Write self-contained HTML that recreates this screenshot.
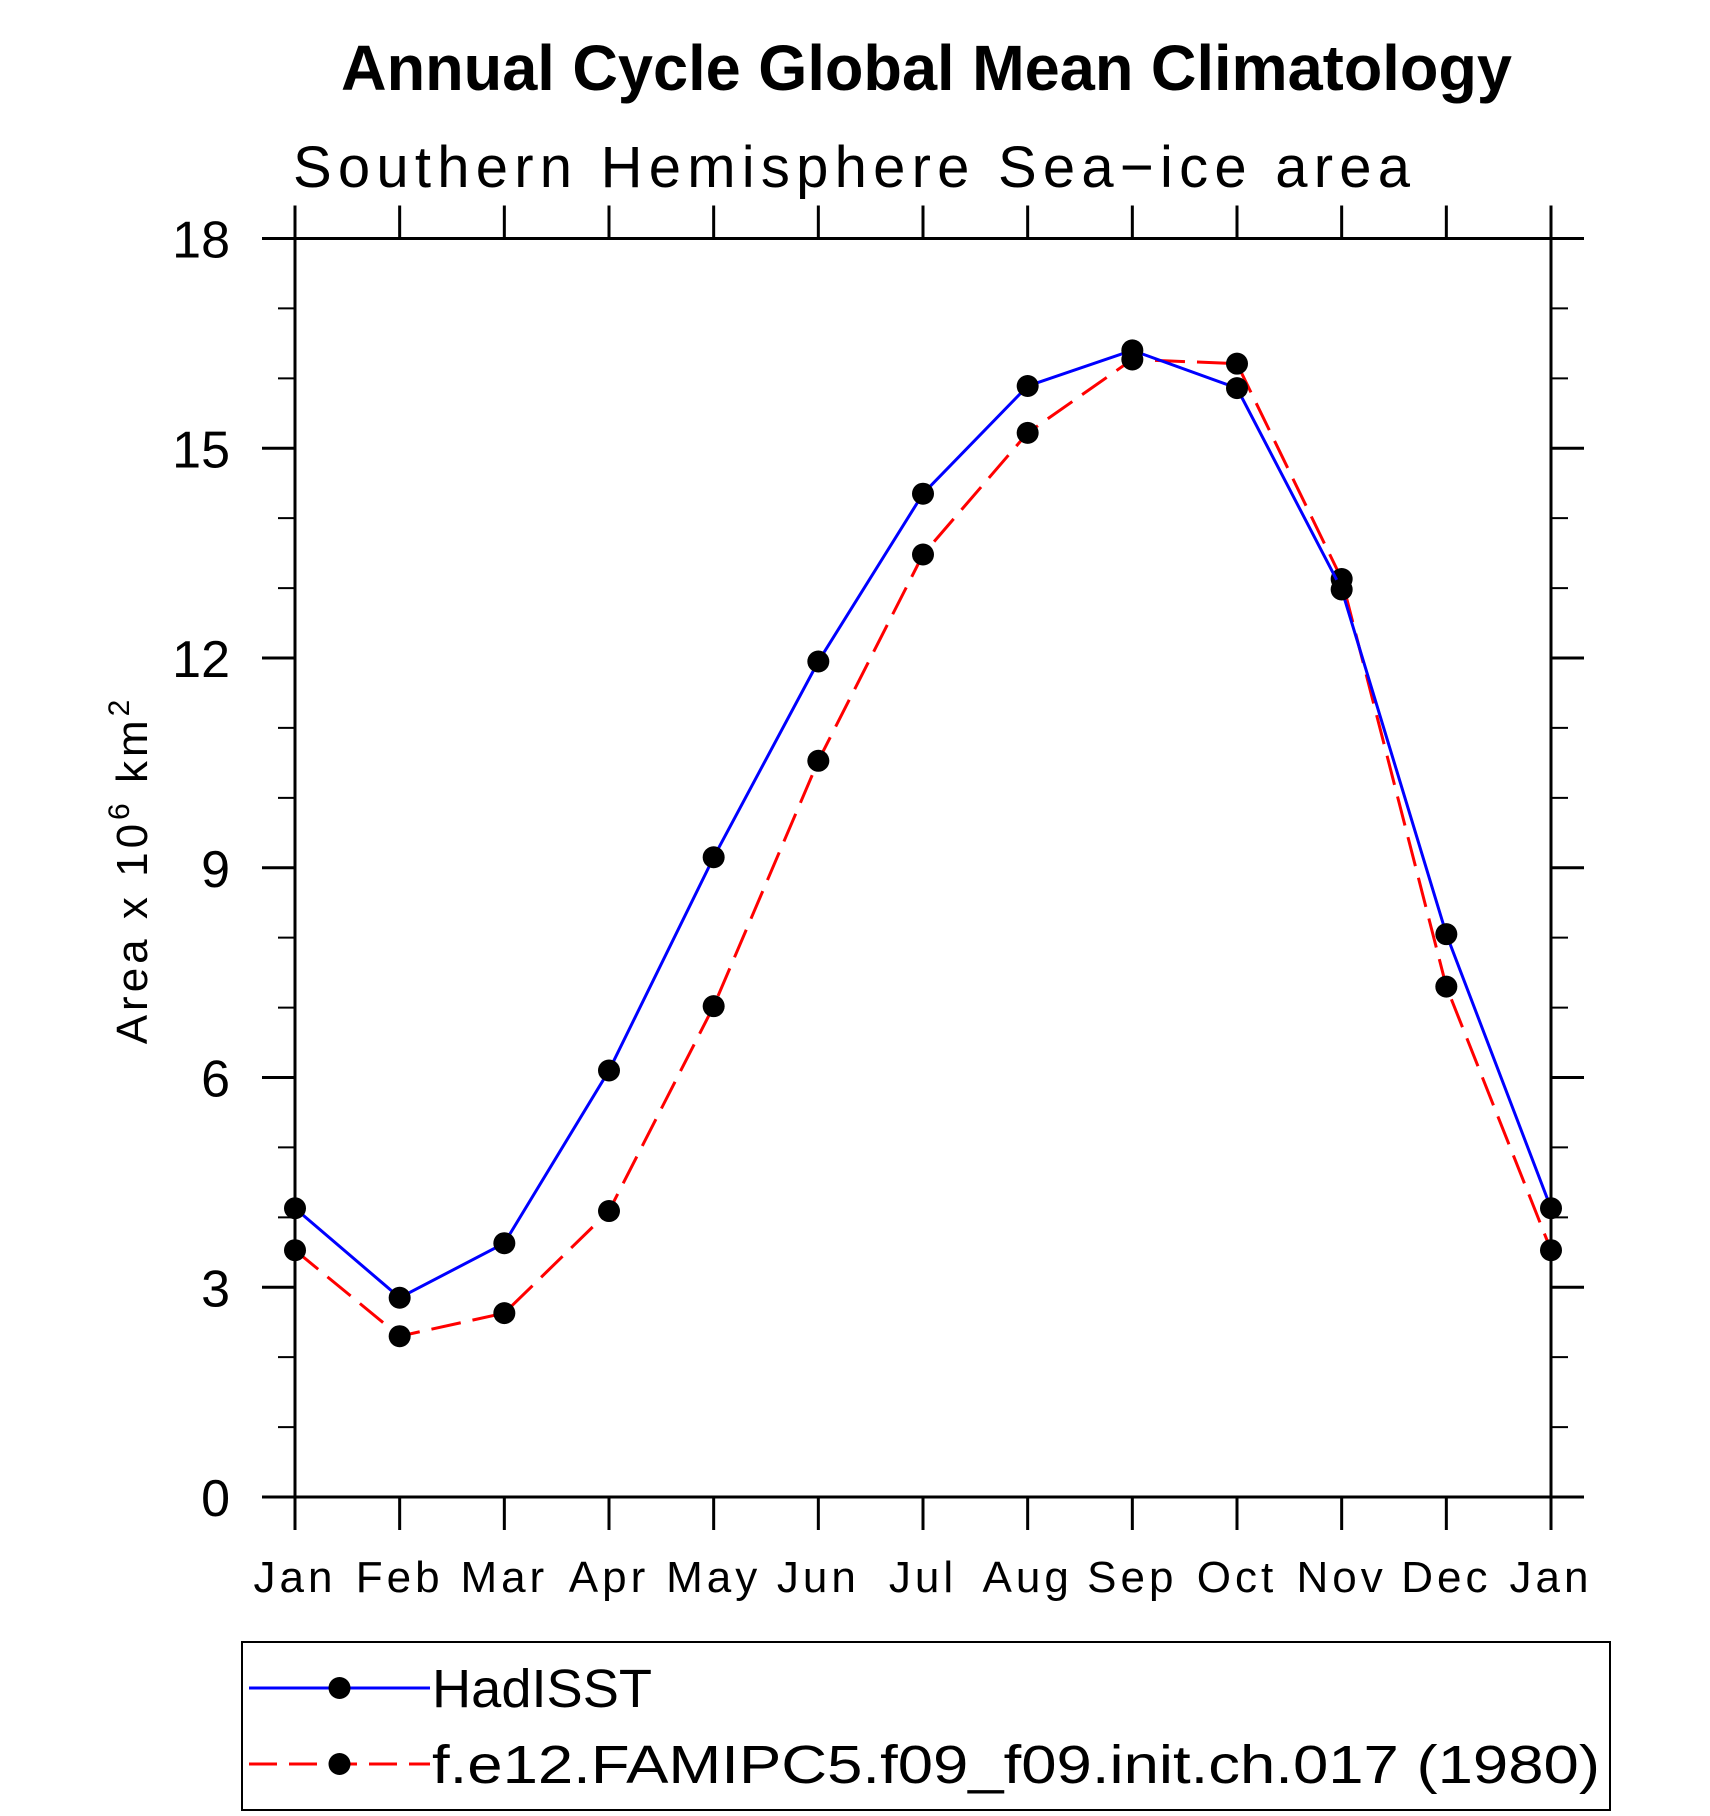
<!DOCTYPE html>
<html><head><meta charset="utf-8"><style>
html,body{margin:0;padding:0;background:#fff;}
svg{display:block;font-family:"Liberation Sans",sans-serif;}
</style></head><body>
<svg id="chart" width="1710" height="1816" viewBox="0 0 1710 1816" xmlns="http://www.w3.org/2000/svg">
<text x="341" y="90" font-size="64" font-weight="bold" textLength="1171" lengthAdjust="spacingAndGlyphs">Annual Cycle Global Mean Climatology</text>
<text x="293" y="187" font-size="58" textLength="1117" lengthAdjust="spacing">Southern Hemisphere Sea−ice area</text>
<g id="axes"></g>
<g id="series"></g>
<text transform="translate(147,870) rotate(-90)" text-anchor="middle" font-size="44" letter-spacing="4">Area x 10<tspan dy="-18" font-size="30">6</tspan><tspan dy="18"> km</tspan><tspan dy="-18" font-size="30">2</tspan></text>
<rect x="242" y="1642" width="1368" height="168" fill="none" stroke="#000" stroke-width="2"/>
<g>
<line x1="249" y1="1688" x2="430" y2="1688" stroke="#0000ff" stroke-width="3"/>
<circle cx="339.5" cy="1688" r="11" fill="#000"/>
<text x="432" y="1707" font-size="54" textLength="220" lengthAdjust="spacingAndGlyphs">HadISST</text>
</g>
<g>
<line x1="249" y1="1764" x2="430" y2="1764" stroke="#ff0000" stroke-width="3" stroke-dasharray="28,12"/>
<circle cx="339.5" cy="1764" r="11" fill="#000"/>
<text x="432" y="1783" font-size="54" textLength="1168" lengthAdjust="spacingAndGlyphs">f.e12.FAMIPC5.f09_f09.init.ch.017 (1980)</text>
</g>
</svg>
<script>
const months = ["Jan","Feb","Mar","Apr","May","Jun","Jul","Aug","Sep","Oct","Nov","Dec","Jan"];
const hadisst = [4.13,2.85,3.63,6.1,9.15,11.95,14.35,15.89,16.4,15.86,12.98,8.05,4.13];
const model = [3.53,2.3,2.63,4.09,7.02,10.53,13.48,15.22,16.27,16.21,13.13,7.3,3.53];
const yTicks = [0,3,6,9,12,15,18];
const yMinorTicks = [1,2,4,5,7,8,10,11,13,14,16,17];

const L=295,R=1551,T=238.5,B=1497,YMIN=0,YMAX=18;
const NS="http://www.w3.org/2000/svg";
function xs(i){return L+(R-L)*i/(months.length-1);}
function ys(v){return B-(B-T)*(v-YMIN)/(YMAX-YMIN);}
function mk(tag,attrs,parent){const e=document.createElementNS(NS,tag);for(const k in attrs)e.setAttribute(k,attrs[k]);parent.appendChild(e);return e;}
const axes=document.getElementById('axes');
const TL=33,TM=17;
let e;
e=mk('line',{x1:L-TL,y1:T,x2:R+TL,y2:T,stroke:'#000','stroke-width':3},axes);


e=mk('line',{x1:L-TL,y1:B,x2:R+TL,y2:B,stroke:'#000','stroke-width':3},axes);


e=mk('line',{x1:L,y1:T-TL,x2:L,y2:B+TL,stroke:'#000','stroke-width':3},axes);


e=mk('line',{x1:R,y1:T-TL,x2:R,y2:B+TL,stroke:'#000','stroke-width':3},axes);


months.forEach((m,i)=>{
  const x=xs(i);
  mk('line',{x1:x,y1:T-TL,x2:x,y2:T,stroke:'#000','stroke-width':3},axes);
  mk('line',{x1:x,y1:B,x2:x,y2:B+TL,stroke:'#000','stroke-width':3},axes);
  const t=mk('text',{x:x,y:1592,'text-anchor':'middle','font-size':44,'letter-spacing':4},axes);
  t.textContent=m;
  
  
});
yTicks.forEach(v=>{
  const y=ys(v);
  mk('line',{x1:L-TL,y1:y,x2:L,y2:y,stroke:'#000','stroke-width':3},axes);
  mk('line',{x1:R,y1:y,x2:R+TL,y2:y,stroke:'#000','stroke-width':3},axes);
  const t=mk('text',{x:230,y:y+19,'text-anchor':'end','font-size':52},axes);
  t.textContent=v;
  
  
});
yMinorTicks.forEach(v=>{
  const y=ys(v);
  mk('line',{x1:L-TM,y1:y,x2:L,y2:y,stroke:'#000','stroke-width':2},axes);
  mk('line',{x1:R,y1:y,x2:R+TM,y2:y,stroke:'#000','stroke-width':2},axes);
});
const ser=document.getElementById('series');
function draw(vals,color,dash,name){
  const pts=vals.map((v,i)=>xs(i)+','+ys(v)).join(' ');
  const p=mk('polyline',{points:pts,fill:'none',stroke:color,'stroke-width':3},ser);
  if(dash)p.setAttribute('stroke-dasharray',dash);
  
  
  vals.forEach((v,i)=>{
    const c=mk('circle',{cx:xs(i),cy:ys(v),r:11,fill:'#000'},ser);
    
    
  });
}
draw(model,'#ff0000','30,12','model');
draw(hadisst,'#0000ff',null,'hadisst');
</script>
</body></html>
